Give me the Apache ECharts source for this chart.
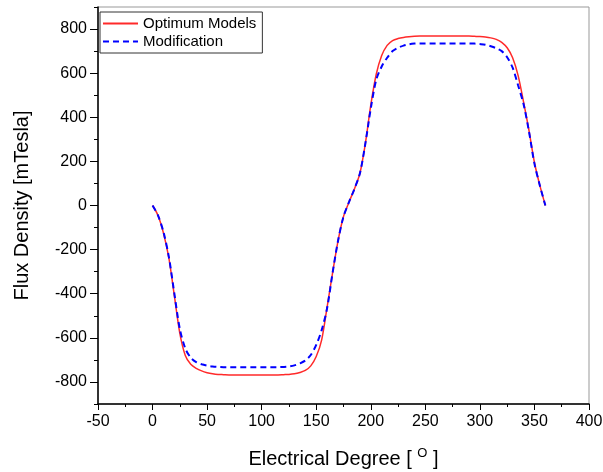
<!DOCTYPE html>
<html>
<head>
<meta charset="utf-8">
<script src="https://cdn.jsdelivr.net/npm/echarts@6/dist/echarts.min.js"></script>
<style>
  * { margin: 0; padding: 0; }
  body { background: #fff; }
  #main { width: 603px; height: 472px; }
</style>
</head>
<body>
<div id="main"></div>
<script>
// electrical degree, every 5 deg
var degrees = [
  0, 5, 10, 15, 20, 25, 30, 35, 40, 45, 50, 55, 60, 65, 70, 75, 80, 85, 90, 95,
  100, 105, 110, 115, 120, 125, 130, 135, 140, 145, 150, 155, 160, 165, 170, 175, 180, 185, 190, 195,
  200, 205, 210, 215, 220, 225, 230, 235, 240, 245, 250, 255, 260, 265, 270, 275, 280, 285, 290, 295,
  300, 305, 310, 315, 320, 325, 330, 335, 340, 345, 350, 355, 360
];
var optimumModels = [
  0, -45, -125, -240, -410, -580, -680, -720, -738, -750, -758, -763, -766, -767, -768, -768, -768, -768, -768, -768,
  -768, -768, -768, -768, -767, -766, -763, -757, -748, -727, -685, -609, -460, -305, -160, -50, 15, 75, 145, 280,
  455, 595, 680, 726, 748, 757, 762, 765, 767, 768, 768, 768, 768, 768, 768, 768, 768, 768, 768, 767,
  766, 764, 760, 753, 740, 715, 670, 590, 470, 340, 195, 90, 0
];
var modification = [
  0, -45, -120, -235, -400, -560, -648, -690, -710, -720, -726, -730, -732, -733, -733, -733, -733, -733, -733, -733,
  -733, -733, -733, -733, -732, -730, -725, -716, -703, -678, -632, -565, -465, -305, -160, -50, 15, 75, 145, 280,
  440, 570, 630, 670, 700, 715, 725, 731, 734, 735, 735, 735, 735, 735, 735, 735, 735, 735, 735, 734,
  732, 729, 722, 713, 700, 672, 625, 545, 460, 335, 190, 90, 0
];
var yMajorTicks = [-800, -600, -400, -200, 0, 200, 400, 600, 800];

function pairs(ys) {
  return degrees.map(function (d, i) { return [d, ys[i]]; });
}

var chart = echarts.init(document.getElementById('main'));
var font = '"Liberation Sans", Arial, sans-serif';

chart.setOption({
  animation: false,
  textStyle: { fontFamily: font },
  grid: {
    left: 98, right: 14, top: 7, bottom: 68,
    outerBoundsMode: 'none',
    show: true, borderColor: '#999', borderWidth: 1
  },
  legend: {
    orient: 'vertical',
    left: 100, top: 12,
    itemWidth: 35, itemHeight: 10, itemGap: 3,
    padding: [4, 6, 4, 2],
    borderColor: '#333', borderWidth: 1,
    itemStyle: { opacity: 0 },
    textStyle: { fontFamily: font, fontSize: 15, color: '#000' },
    data: ['Optimum Models', 'Modification']
  },
  xAxis: {
    type: 'value',
    min: -50, max: 400, interval: 50,
    name: 'Electrical Degree [ {sup|O} ]',
    nameLocation: 'middle',
    nameGap: 43,
    nameTextStyle: {
      fontFamily: font, fontSize: 20, color: '#000',
      rich: { sup: { fontFamily: font, fontSize: 13, verticalAlign: 'bottom', padding: [0, 0, 11, 0] } }
    },
    axisLine: { onZero: false, lineStyle: { color: '#000', width: 1.5 } },
    axisTick: { length: 6, inside: false, lineStyle: { color: '#000' } },
    minorTick: { show: true, splitNumber: 2, length: 3, lineStyle: { color: '#000' } },
    axisLabel: { fontFamily: font, fontSize: 16, color: '#000', margin: 10 },
    splitLine: { show: false }
  },
  yAxis: [{
    type: 'value',
    min: -900, max: 900, interval: 100,
    name: 'Flux Density [mTesla]',
    nameLocation: 'middle',
    nameGap: 66,
    nameTextStyle: { fontFamily: font, fontSize: 20, color: '#000' },
    axisLine: { onZero: false, lineStyle: { color: '#000', width: 1.5 } },
    axisTick: { length: 8, customValues: yMajorTicks, lineStyle: { color: '#000' } },
    axisLabel: { fontFamily: font, fontSize: 16, color: '#000', margin: 11, customValues: yMajorTicks },
    splitLine: { show: false }
  }, {
    type: 'value',
    position: 'left',
    min: -900, max: 900, interval: 100,
    axisLine: { show: false, onZero: false },
    axisTick: { length: 4, lineStyle: { color: '#000' } },
    axisLabel: { show: false },
    splitLine: { show: false }
  }],
  series: [{
    name: 'Optimum Models',
    type: 'line',
    data: pairs(optimumModels),
    smooth: 0.3,
    showSymbol: false,
    symbol: 'none',
    lineStyle: { color: '#ff2a2a', width: 1.5 },
    itemStyle: { color: '#ff2a2a' }
  }, {
    name: 'Modification',
    type: 'line',
    data: pairs(modification),
    smooth: 0.3,
    showSymbol: false,
    symbol: 'none',
    lineStyle: { color: '#0000ff', width: 2, type: [6, 4] },
    itemStyle: { color: '#0000ff' }
  }]
});
</script>
</body>
</html>
